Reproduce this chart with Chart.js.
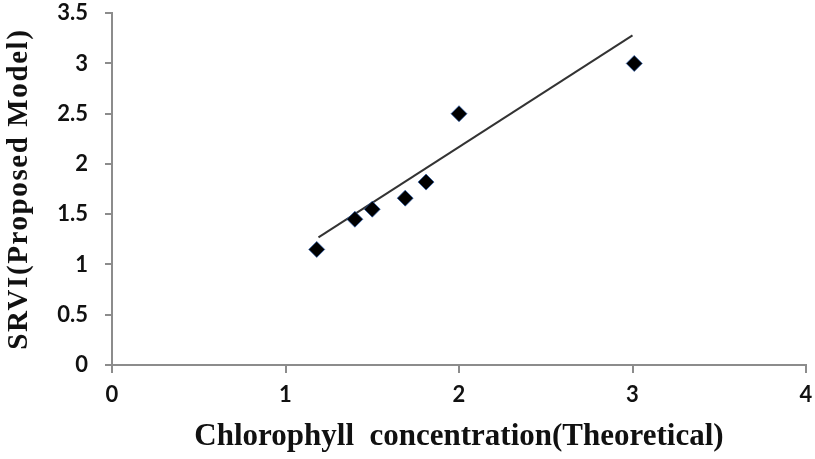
<!DOCTYPE html>
<html>
<head>
<meta charset="utf-8">
<script src="https://cdn.jsdelivr.net/npm/chart.js@4"></script>
<style>
  html, body { margin: 0; padding: 0; background: #fff; }
  #wrap { width: 815px; height: 459px; }
</style>
</head>
<body>
<div id="wrap"><canvas id="srviChart" width="815" height="459"></canvas></div>
<script>
// values
const chlorophyll = [1.18, 1.40, 1.50, 1.69, 1.81, 2.00, 3.01];
const srvi = [1.15, 1.45, 1.55, 1.66, 1.82, 2.50, 3.00];
// trend line end points
const trendX = [1.19, 3.00];
const trendY = [1.27, 3.28];

const points = chlorophyll.map((x, i) => ({ x: x, y: srvi[i] }));
const trend = trendX.map((x, i) => ({ x: x, y: trendY[i] }));

const tickFont = { family: 'Lato', size: 22, weight: 'bold' };
const axisGray = '#8c8c8c';

// spread the y title letters a little, like the original
const spacedTitle = {
  id: 'spacedTitle',
  beforeDraw(chart) {
    const s = chart.scales.y;
    if (s && !s._spaced) {
      const orig = s.drawTitle.bind(s);
      s.drawTitle = function () {
        const c = chart.ctx;
        c.save();
        c.letterSpacing = '1.6px';
        orig();
        c.restore();
      };
      s._spaced = true;
    }
  }
};

const ctx = document.getElementById('srviChart').getContext('2d');
new Chart(ctx, {
  type: 'scatter',
  data: {
    datasets: [
      {
        label: 'SRVI',
        data: points,
        pointStyle: 'rectRot',
        pointRadius: 8,
        pointHoverRadius: 8,
        backgroundColor: '#000',
        borderColor: 'rgba(40, 90, 170, 0.7)',
        borderWidth: 1
      },
      {
        label: 'Trend',
        data: trend,
        showLine: true,
        pointRadius: 0,
        borderColor: '#333',
        borderWidth: 2
      }
    ]
  },
  options: {
    responsive: false,
    animation: false,
    layout: { padding: 0 },
    plugins: {
      legend: { display: false },
      tooltip: { enabled: false }
    },
    scales: {
      x: {
        min: 0,
        max: 4,
        afterFit: (s) => { s.height = 94; },
        ticks: { stepSize: 1, color: '#111', font: tickFont, padding: 0, callback: (v) => String(v) },
        // long tick slot for the label gap, only the first 7px drawn
        grid: { drawOnChartArea: false, drawTicks: true, tickLength: 17, tickBorderDash: [7, 100],
                color: axisGray, lineWidth: 2 },
        border: { color: axisGray, width: 2 },
        title: {
          display: true,
          text: 'Chlorophyll  concentration(Theoretical)',
          color: '#111',
          font: { family: 'Liberation Serif', size: 31, weight: 'bold' },
          padding: { top: 4, bottom: 3 }
        }
      },
      y: {
        min: 0,
        max: 3.5,
        afterFit: (s) => { s.width = 112; },
        ticks: { stepSize: 0.5, color: '#111', font: tickFont, padding: 0, callback: (v) => String(v) },
        grid: { drawOnChartArea: false, drawTicks: true, tickLength: 24, tickBorderDash: [0, 17, 7, 100],
                color: axisGray, lineWidth: 2 },
        border: { color: axisGray, width: 2 },
        title: {
          display: true,
          text: 'SRVI(Proposed Model)',
          color: '#111',
          font: { family: 'Liberation Serif', size: 29, weight: 'bold' },
          padding: { top: 2, bottom: 2 }
        }
      }
    }
  },
  plugins: [spacedTitle]
});
</script>
</body>
</html>
